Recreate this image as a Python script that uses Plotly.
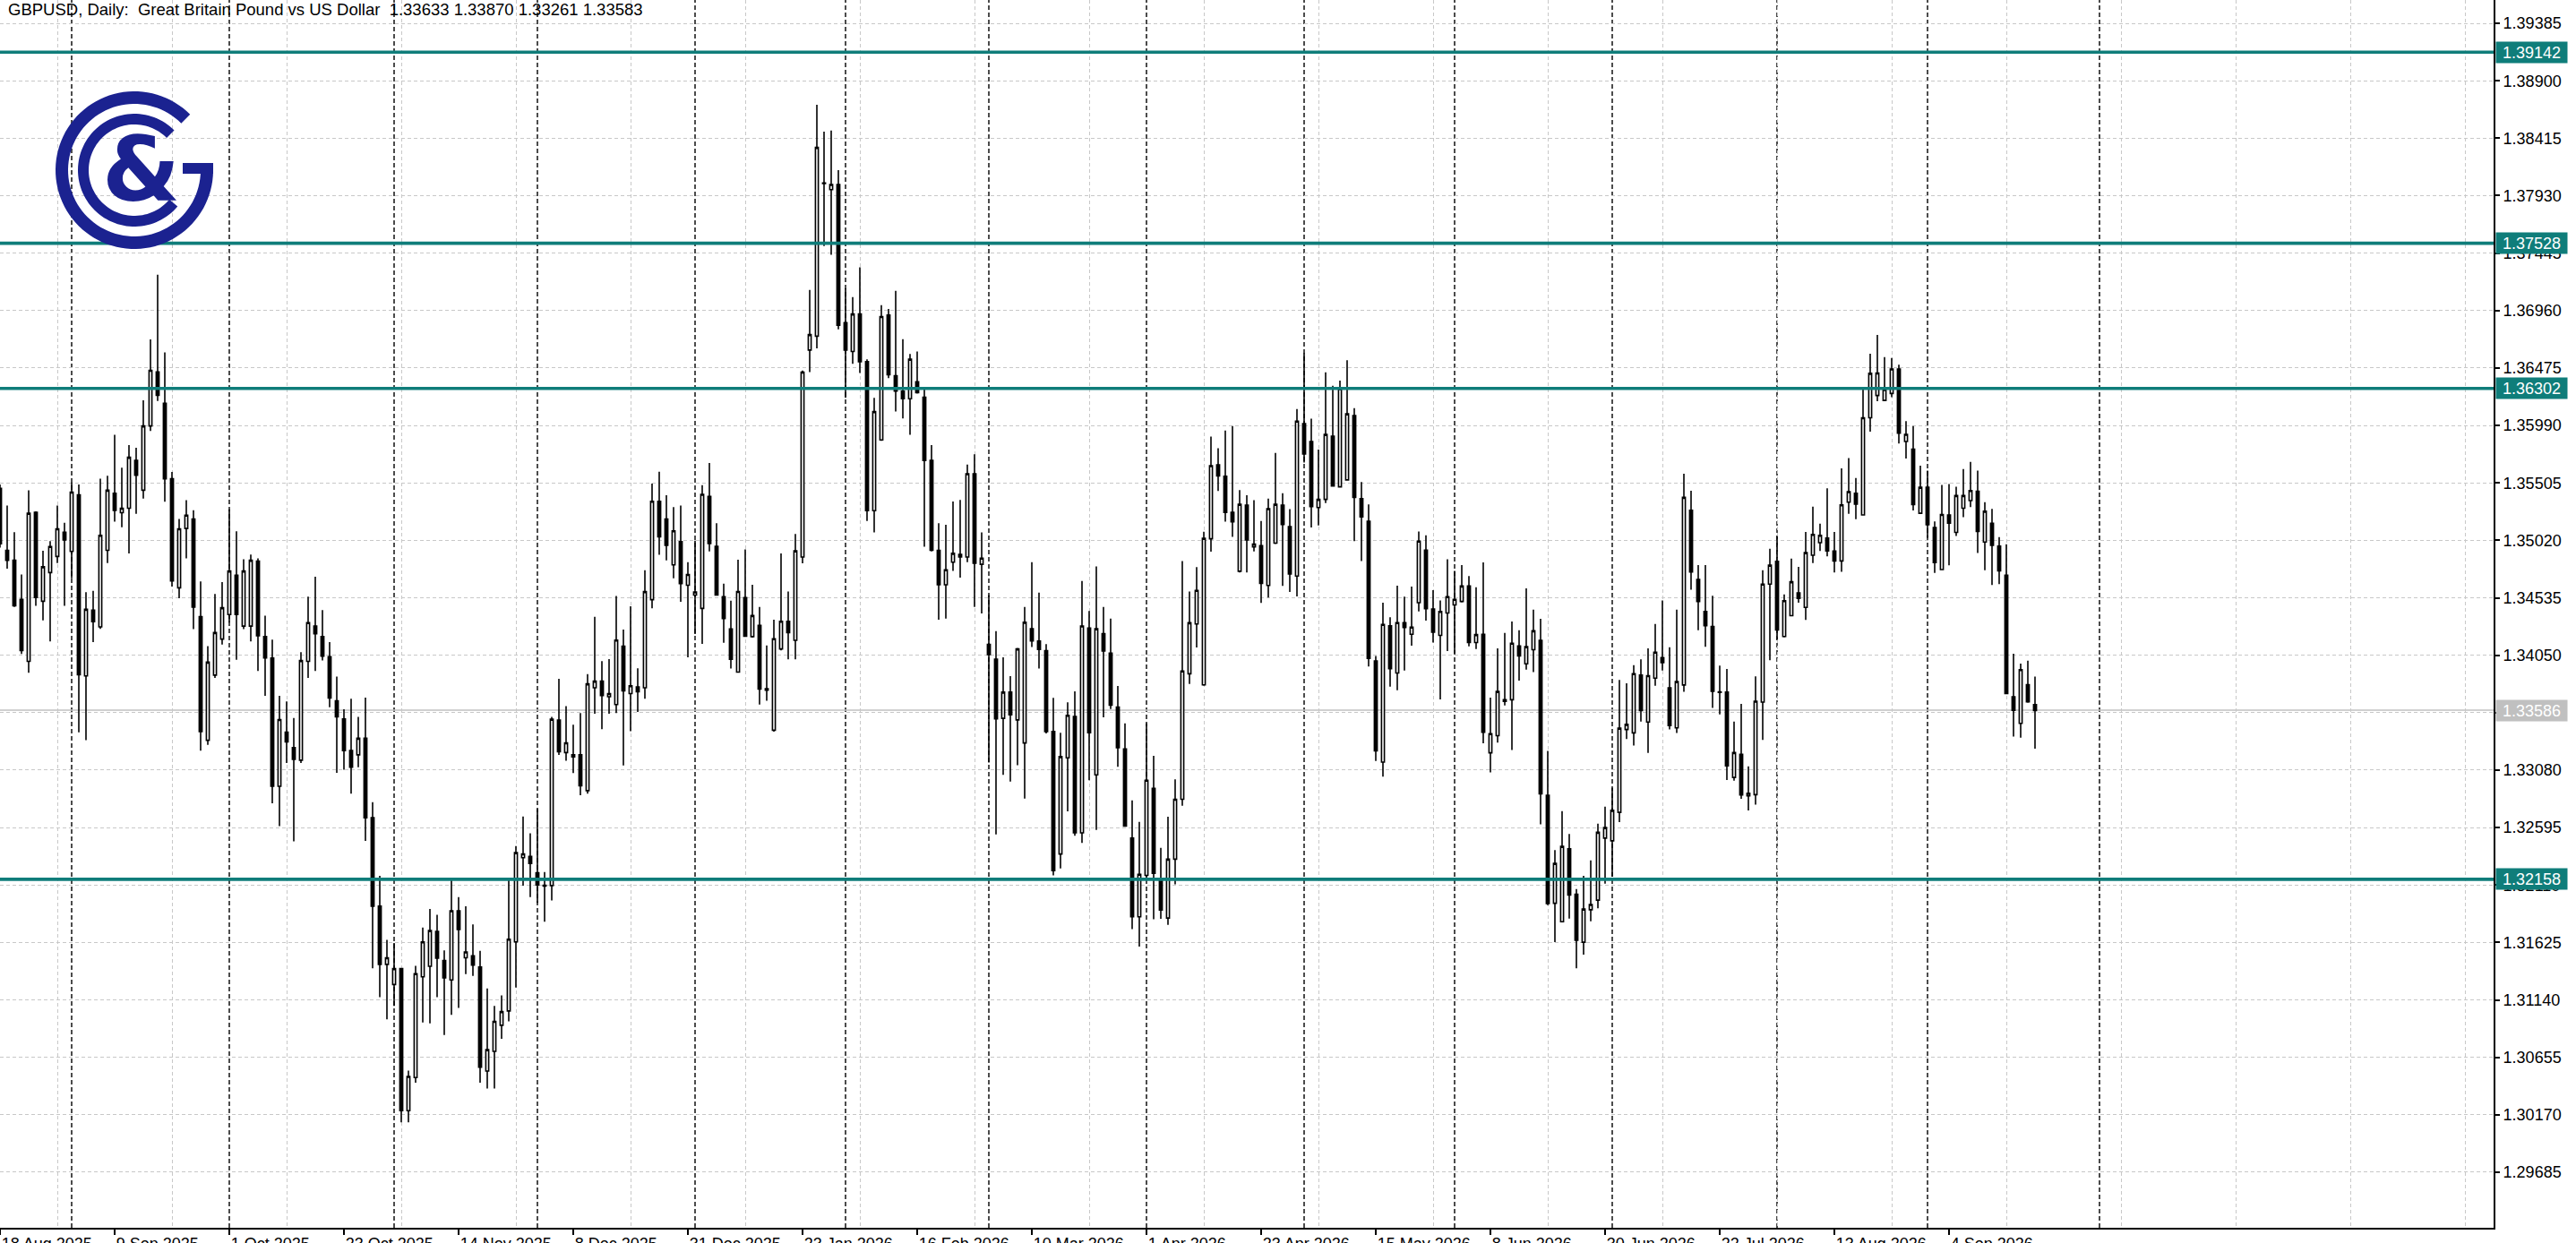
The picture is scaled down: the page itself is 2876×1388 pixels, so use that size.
import math
import plotly.graph_objects as go

title_text = "GBPUSD, Daily:  Great Britain Pound vs US Dollar  1.33633 1.33870 1.33261 1.33583"

opens = [
    1.35459, 1.34936, 1.34852, 1.34522, 1.33998, 1.35256, 1.34506, 1.34748, 1.34884, 1.35088,
    1.34926, 1.35404, 1.33875, 1.34431, 1.34289, 1.34936, 1.35417, 1.35253, 1.35291, 1.35695,
    1.35443, 1.35986, 1.36442, 1.36177, 1.35540, 1.34619, 1.35120, 1.35201, 1.34376, 1.33332,
    1.33882, 1.34186, 1.34393, 1.34726, 1.34296, 1.34296, 1.34845, 1.34208, 1.34027, 1.32944,
    1.33400, 1.33271, 1.33164, 1.33998, 1.34296, 1.34208, 1.34037, 1.33665, 1.33513, 1.33245,
    1.33209, 1.33349, 1.32678, 1.31931, 1.31440, 1.31270, 1.31404, 1.30205, 1.30484, 1.31335,
    1.31424, 1.31718, 1.31473, 1.31309, 1.31892, 1.31496, 1.31512, 1.31417, 1.30539, 1.30706,
    1.30926, 1.31047, 1.31630, 1.32341, 1.32351, 1.32213, 1.32108, 1.32105, 1.33503, 1.33228,
    1.33192, 1.33209, 1.32907, 1.33775, 1.33831, 1.33700, 1.33634, 1.34126, 1.33726, 1.33782,
    1.33775, 1.34519, 1.35350, 1.35200, 1.34813, 1.35009, 1.34641, 1.34558, 1.34445, 1.35391,
    1.34970, 1.34545, 1.34272, 1.33907, 1.34536, 1.34207, 1.34302, 1.33755, 1.33417, 1.34103,
    1.34337, 1.34176, 1.34879, 1.36627, 1.36744, 1.38033, 1.37981, 1.38024, 1.36857, 1.36614,
    1.36931, 1.36528, 1.35270, 1.35868, 1.36922, 1.36410, 1.36280, 1.36215, 1.36358, 1.36228,
    1.35695, 1.34936, 1.34645, 1.34836, 1.34901, 1.34879, 1.35582, 1.34818, 1.34142, 1.34016,
    1.33517, 1.33738, 1.33504, 1.33309, 1.34273, 1.34170, 1.34088, 1.33406, 1.32372, 1.33184,
    1.33533, 1.32550, 1.34280, 1.33040, 1.34232, 1.34067, 1.33612, 1.33259, 1.32506, 1.31841,
    1.32191, 1.32927, 1.32156, 1.31831, 1.32328, 1.32834, 1.33893, 1.34314, 1.33800, 1.35033,
    1.35657, 1.35561, 1.35256, 1.34759, 1.35318, 1.34965, 1.34975, 1.34639, 1.34996, 1.35318,
    1.35136, 1.34718, 1.36006, 1.35855, 1.35297, 1.35366, 1.35900, 1.35472, 1.35530, 1.36074,
    1.35372, 1.35181, 1.34001, 1.33148, 1.34299, 1.33900, 1.34325, 1.34227, 1.34493, 1.34938,
    1.34441, 1.34218, 1.34406, 1.34475, 1.34504, 1.34634, 1.34157, 1.34227, 1.33226, 1.33371,
    1.33660, 1.33674, 1.34128, 1.33978, 1.34096, 1.34175, 1.32867, 1.31956, 1.31800, 1.32416,
    1.32032, 1.31627, 1.31901, 1.31982, 1.32506, 1.32483, 1.32723, 1.33423, 1.33394, 1.33882,
    1.33486, 1.33856, 1.34030, 1.33775, 1.33437, 1.33799, 1.35273, 1.34689, 1.34420, 1.34292,
    1.33741, 1.33738, 1.33018, 1.33214, 1.32862, 1.32873, 1.33654, 1.34650, 1.34843, 1.34208,
    1.34384, 1.34577, 1.34454, 1.34894, 1.35000, 1.35039, 1.34930, 1.34846, 1.35342, 1.35417,
    1.35235, 1.36055, 1.36243, 1.36201, 1.36260, 1.36467, 1.35854, 1.35789, 1.35249, 1.35468,
    1.35129, 1.34773, 1.35235, 1.35087, 1.35291, 1.35356, 1.35434, 1.35006, 1.35165, 1.34972,
    1.34726, 1.33699, 1.33475, 1.33802, 1.33633,
]
highs = [
    1.35492, 1.35314, 1.35088, 1.34732, 1.35443, 1.35265, 1.34932, 1.35013, 1.35314, 1.35168,
    1.35508, 1.35492, 1.34583, 1.34593, 1.35540, 1.35566, 1.35912, 1.35634, 1.35825, 1.35802,
    1.36203, 1.36717, 1.37263, 1.36607, 1.35598, 1.35201, 1.35359, 1.35275, 1.34674, 1.34127,
    1.34567, 1.34667, 1.35282, 1.35097, 1.34861, 1.34900, 1.34868, 1.34383, 1.34182, 1.33707,
    1.33659, 1.33520, 1.34076, 1.34544, 1.34713, 1.34431, 1.34160, 1.33869, 1.33594, 1.33683,
    1.33530, 1.33693, 1.32809, 1.32187, 1.31646, 1.31620, 1.31411, 1.30543, 1.31427, 1.31751,
    1.31908, 1.31859, 1.31558, 1.32154, 1.32007, 1.31931, 1.31777, 1.31555, 1.31237, 1.31090,
    1.31178, 1.32154, 1.32439, 1.32688, 1.32547, 1.32753, 1.32220, 1.33530, 1.33850, 1.33621,
    1.33464, 1.33562, 1.33890, 1.34374, 1.34001, 1.34018, 1.34551, 1.34266, 1.34463, 1.33939,
    1.34767, 1.35500, 1.35600, 1.35400, 1.35300, 1.35313, 1.34836, 1.35018, 1.35486, 1.35673,
    1.35165, 1.34654, 1.34510, 1.34857, 1.34944, 1.34645, 1.34458, 1.34133, 1.34350, 1.34910,
    1.34588, 1.35074, 1.36454, 1.37135, 1.38697, 1.38471, 1.38480, 1.38146, 1.37148, 1.37074,
    1.37326, 1.36549, 1.36224, 1.37005, 1.36974, 1.37126, 1.36718, 1.36593, 1.36614, 1.36315,
    1.35825, 1.35165, 1.35152, 1.35348, 1.35361, 1.35660, 1.35747, 1.35087, 1.34558, 1.34254,
    1.34033, 1.33873, 1.34111, 1.34458, 1.34835, 1.34578, 1.34143, 1.33691, 1.33396, 1.33653,
    1.33745, 1.34677, 1.34424, 1.34800, 1.34458, 1.34359, 1.33790, 1.33475, 1.32824, 1.32643,
    1.33475, 1.33201, 1.32423, 1.32687, 1.33002, 1.34845, 1.34588, 1.34794, 1.35092, 1.35896,
    1.35797, 1.35948, 1.35985, 1.35444, 1.35400, 1.35359, 1.35184, 1.35372, 1.35759, 1.35417,
    1.35283, 1.36129, 1.36602, 1.36047, 1.35787, 1.36438, 1.36325, 1.36369, 1.36540, 1.36136,
    1.35513, 1.35324, 1.34044, 1.34493, 1.34371, 1.34637, 1.34545, 1.34629, 1.35094, 1.35062,
    1.34600, 1.34513, 1.34860, 1.34762, 1.34811, 1.34718, 1.34623, 1.34834, 1.33692, 1.34108,
    1.34238, 1.34334, 1.34261, 1.34614, 1.34435, 1.34357, 1.33243, 1.32405, 1.32734, 1.32541,
    1.32075, 1.32188, 1.32318, 1.32627, 1.32772, 1.32931, 1.33842, 1.33813, 1.33966, 1.34015,
    1.34108, 1.34313, 1.34513, 1.34117, 1.34435, 1.35583, 1.35438, 1.34811, 1.34811, 1.34552,
    1.33962, 1.33934, 1.33489, 1.33640, 1.33111, 1.33872, 1.34768, 1.34950, 1.35056, 1.34564,
    1.34866, 1.34796, 1.35090, 1.35305, 1.35160, 1.35459, 1.35090, 1.35627, 1.35714, 1.35546,
    1.36293, 1.36596, 1.36755, 1.36568, 1.36559, 1.36503, 1.36027, 1.35985, 1.35650, 1.35608,
    1.35179, 1.35487, 1.35496, 1.35473, 1.35622, 1.35683, 1.35608, 1.35342, 1.35286, 1.35048,
    1.34986, 1.34063, 1.33979, 1.34004, 1.33870,
]
lows = [
    1.34958, 1.34780, 1.34457, 1.34060, 1.33901, 1.34467, 1.34344, 1.34166, 1.34829, 1.34467,
    1.34700, 1.33400, 1.33332, 1.34160, 1.34273, 1.34829, 1.35178, 1.35130, 1.34910, 1.35243,
    1.35372, 1.35944, 1.36197, 1.35346, 1.34629, 1.34532, 1.34868, 1.34270, 1.33245, 1.33293,
    1.33859, 1.34140, 1.34328, 1.34011, 1.34270, 1.34166, 1.33917, 1.33707, 1.32799, 1.32608,
    1.33141, 1.32479, 1.33141, 1.33859, 1.33917, 1.34005, 1.33610, 1.33057, 1.33083, 1.32881,
    1.33104, 1.32482, 1.31407, 1.31162, 1.30975, 1.31090, 1.30107, 1.30107, 1.30441, 1.30949,
    1.30942, 1.31162, 1.30844, 1.31014, 1.31073, 1.31358, 1.31342, 1.30441, 1.30392, 1.30392,
    1.30811, 1.30959, 1.31244, 1.32105, 1.32007, 1.31958, 1.31800, 1.31980, 1.33209, 1.33159,
    1.33055, 1.32868, 1.32881, 1.33556, 1.33425, 1.33556, 1.33562, 1.33120, 1.33408, 1.33572,
    1.33683, 1.34447, 1.34898, 1.34850, 1.34699, 1.34502, 1.34033, 1.34228, 1.34146, 1.34927,
    1.34554, 1.34155, 1.33938, 1.33903, 1.34207, 1.34198, 1.33634, 1.33665, 1.33404, 1.34090,
    1.34016, 1.34016, 1.34827, 1.36441, 1.36640, 1.37504, 1.37430, 1.36801, 1.36224, 1.36510,
    1.36432, 1.35183, 1.35087, 1.35860, 1.36389, 1.36107, 1.36050, 1.35912, 1.36259, 1.34966,
    1.34927, 1.34350, 1.34359, 1.34762, 1.34706, 1.34836, 1.34458, 1.34402, 1.33144, 1.32537,
    1.33040, 1.32983, 1.33122, 1.32840, 1.34119, 1.33937, 1.33389, 1.32191, 1.32249, 1.32732,
    1.32526, 1.32465, 1.32995, 1.32574, 1.33526, 1.33595, 1.33108, 1.32602, 1.31738, 1.31591,
    1.32163, 1.31821, 1.31824, 1.31773, 1.32115, 1.32780, 1.33807, 1.34115, 1.33793, 1.34924,
    1.35437, 1.35177, 1.35050, 1.34749, 1.34749, 1.34927, 1.34492, 1.34537, 1.34989, 1.34636,
    1.34585, 1.34547, 1.35677, 1.35129, 1.35146, 1.35335, 1.35472, 1.35465, 1.35523, 1.35013,
    1.34845, 1.33954, 1.33157, 1.33024, 1.33784, 1.33755, 1.33920, 1.34131, 1.34420, 1.34342,
    1.34157, 1.33677, 1.34085, 1.34065, 1.34495, 1.34125, 1.34102, 1.33307, 1.33061, 1.33313,
    1.33625, 1.33249, 1.33836, 1.33929, 1.33908, 1.32622, 1.31939, 1.31627, 1.31797, 1.31826,
    1.31407, 1.31523, 1.31803, 1.31913, 1.32121, 1.32179, 1.32642, 1.33342, 1.33287, 1.33489,
    1.33226, 1.33793, 1.33920, 1.33423, 1.33394, 1.33741, 1.34603, 1.34261, 1.34122, 1.33606,
    1.33550, 1.32996, 1.32990, 1.32837, 1.32739, 1.32789, 1.33335, 1.34007, 1.34180, 1.34200,
    1.34381, 1.34494, 1.34348, 1.34829, 1.34930, 1.34885, 1.34748, 1.34754, 1.35244, 1.35199,
    1.35230, 1.35938, 1.36195, 1.36195, 1.36229, 1.35837, 1.35711, 1.35272, 1.35244, 1.35042,
    1.34745, 1.34768, 1.34810, 1.35056, 1.35216, 1.35300, 1.34913, 1.34768, 1.34642, 1.34650,
    1.33727, 1.33363, 1.33354, 1.33649, 1.33261,
]
closes = [
    1.34991, 1.34852, 1.34467, 1.34089, 1.35249, 1.34538, 1.34797, 1.34968, 1.35117, 1.35023,
    1.35427, 1.33885, 1.34438, 1.34334, 1.35062, 1.35443, 1.35272, 1.35291, 1.35721, 1.35569,
    1.35986, 1.36455, 1.36245, 1.35540, 1.34677, 1.35117, 1.35233, 1.34457, 1.33406, 1.33992,
    1.34241, 1.34451, 1.34761, 1.34393, 1.34761, 1.34852, 1.34215, 1.34027, 1.32944, 1.33507,
    1.33319, 1.33170, 1.34005, 1.34325, 1.34231, 1.34043, 1.33688, 1.33529, 1.33245, 1.33104,
    1.33349, 1.32678, 1.31931, 1.31440, 1.31496, 1.31404, 1.30205, 1.30494, 1.31361, 1.31630,
    1.31725, 1.31492, 1.31325, 1.31892, 1.31735, 1.31545, 1.31434, 1.30572, 1.30720, 1.30959,
    1.31041, 1.31653, 1.32383, 1.32373, 1.32292, 1.32111, 1.32101, 1.33510, 1.33235, 1.33310,
    1.33209, 1.32947, 1.33808, 1.33831, 1.33710, 1.33726, 1.34178, 1.33749, 1.33792, 1.33742,
    1.34587, 1.35350, 1.35050, 1.34977, 1.35100, 1.34654, 1.34732, 1.34584, 1.35408, 1.34992,
    1.34558, 1.34359, 1.34016, 1.34588, 1.34211, 1.34385, 1.33764, 1.33768, 1.34189, 1.34337,
    1.34241, 1.34931, 1.36441, 1.36757, 1.38337, 1.38037, 1.38024, 1.36836, 1.36627, 1.36931,
    1.36528, 1.35270, 1.36107, 1.36909, 1.36419, 1.36280, 1.36215, 1.36549, 1.36267, 1.35695,
    1.34936, 1.34645, 1.34771, 1.34910, 1.34879, 1.35582, 1.34827, 1.34870, 1.34055, 1.33513,
    1.33738, 1.33547, 1.34103, 1.34328, 1.34170, 1.34098, 1.33406, 1.32232, 1.33194, 1.33543,
    1.32550, 1.34297, 1.33396, 1.34273, 1.34085, 1.33629, 1.33269, 1.32608, 1.31841, 1.32201,
    1.32995, 1.32208, 1.31899, 1.32328, 1.32834, 1.33917, 1.34324, 1.34598, 1.35037, 1.35650,
    1.35564, 1.35256, 1.35177, 1.35324, 1.35023, 1.34989, 1.34657, 1.35287, 1.35324, 1.35153,
    1.34735, 1.36027, 1.35749, 1.35304, 1.35366, 1.35914, 1.35479, 1.36301, 1.36088, 1.35383,
    1.35218, 1.34023, 1.33243, 1.34310, 1.33937, 1.34325, 1.34284, 1.34287, 1.35013, 1.34443,
    1.34244, 1.34420, 1.34545, 1.34522, 1.34634, 1.34157, 1.34224, 1.33399, 1.33388, 1.33744,
    1.33674, 1.34151, 1.34044, 1.34122, 1.34256, 1.32879, 1.31953, 1.32292, 1.32436, 1.32026,
    1.31644, 1.31907, 1.31945, 1.32555, 1.32595, 1.32740, 1.33434, 1.33466, 1.33894, 1.33582,
    1.33877, 1.34076, 1.33987, 1.33457, 1.33827, 1.35383, 1.34753, 1.34504, 1.34299, 1.33746,
    1.33735, 1.33116, 1.33228, 1.32870, 1.32884, 1.33662, 1.34650, 1.34810, 1.34264, 1.34510,
    1.34670, 1.34530, 1.34916, 1.35070, 1.35062, 1.34930, 1.34846, 1.35319, 1.35431, 1.35325,
    1.36055, 1.36430, 1.36433, 1.36293, 1.36467, 1.35924, 1.35915, 1.35322, 1.35468, 1.35151,
    1.34832, 1.35238, 1.35165, 1.35398, 1.35398, 1.35440, 1.35095, 1.35266, 1.34978, 1.34762,
    1.33727, 1.33584, 1.33928, 1.33657, 1.33583,
]

x_tick_labels = ["18 Aug 2025", "9 Sep 2025", "1 Oct 2025", "23 Oct 2025", "14 Nov 2025",
                 "8 Dec 2025", "31 Dec 2025", "23 Jan 2026", "16 Feb 2026", "10 Mar 2026",
                 "1 Apr 2026", "23 Apr 2026", "15 May 2026", "8 Jun 2026", "30 Jun 2026",
                 "22 Jul 2026", "13 Aug 2026", "4 Sep 2026"]
bars_per_label = 16
y_tick_values = [1.39385, 1.38900, 1.38415, 1.37930, 1.37445, 1.36960, 1.36475, 1.35990,
                 1.35505, 1.35020, 1.34535, 1.34050, 1.33565, 1.33080, 1.32595, 1.32110,
                 1.31625, 1.31140, 1.30655, 1.30170, 1.29685]
level_prices = [1.39142, 1.37528, 1.36302, 1.32158]
bid_price = 1.33586
month_start_bars = [10, 32, 55, 75, 97, 118, 138, 160, 182, 203, 225, 248, 269, 293]

# ---------------- layout constants ----------------
W, H = 2876, 1388
ML, MR, MT, MB = 0, 92, 0, 17
PW, PH = W - ML - MR, H - MT - MB
X_RANGE = [0, 348]
Y_RANGE = [1.29216, 1.39582]
TEAL = "#0f7d7a"
LOGO = "#1b2290"
FONT = "Liberation Sans, Arial, sans-serif"
FS = 18

n = len(opens)
xs = list(range(n))

fig = go.Figure()
fig.add_trace(go.Candlestick(
    x=xs, open=opens, high=highs, low=lows, close=closes,
    increasing=dict(line=dict(color="black", width=1.6), fillcolor="white"),
    decreasing=dict(line=dict(color="black", width=1.6), fillcolor="black"),
    whiskerwidth=0, showlegend=False, hoverinfo="skip",
))

shapes = []
for b in month_start_bars:
    shapes.append(dict(type="line", xref="x", yref="paper", x0=b, x1=b, y0=0, y1=1,
                       line=dict(color="black", width=1.4, dash="5px,3px"), layer="below"))
shapes.append(dict(type="line", xref="paper", yref="y", x0=0, x1=1, y0=bid_price, y1=bid_price,
                   line=dict(color="#c0c0c0", width=1.6), layer="below"))
for p in level_prices:
    shapes.append(dict(type="line", xref="paper", yref="y", x0=0, x1=1, y0=p, y1=p,
                       line=dict(color=TEAL, width=3.6), layer="above"))


def to_paper(px, py):
    return px / PW, 1 - py / PH


def band_path(cx, cy, r_out, r_in, a0, a1, steps=90):
    pts = []
    for k in range(steps + 1):
        a = math.radians(a0 + (a1 - a0) * k / steps)
        pts.append(to_paper(cx + r_out * math.cos(a), cy - r_out * math.sin(a)))
    for k in range(steps, -1, -1):
        a = math.radians(a0 + (a1 - a0) * k / steps)
        pts.append(to_paper(cx + r_in * math.cos(a), cy - r_in * math.sin(a)))
    return "M " + " L ".join(f"{x:.6f},{y:.6f}" for x, y in pts) + " Z"


LCX, LCY = 150, 190
shapes.append(dict(type="path", xref="paper", yref="paper", path=band_path(LCX, LCY, 88, 74, 45, 363),
                   fillcolor=LOGO, line=dict(width=0), layer="above"))
shapes.append(dict(type="path", xref="paper", yref="paper", path=band_path(LCX, LCY, 63, 51, 45, 320),
                   fillcolor=LOGO, line=dict(width=0), layer="above"))
bx0, by0 = to_paper(204, 182)
bx1, by1 = to_paper(238, 194)
shapes.append(dict(type="rect", xref="paper", yref="paper", x0=bx0, x1=bx1, y0=by1, y1=by0,
                   fillcolor=LOGO, line=dict(width=0), layer="above"))

annotations = []
ax, ay = to_paper(157, 190)
annotations.append(dict(xref="paper", yref="paper", x=ax, y=ay, text="<b>&</b>", showarrow=False,
                        font=dict(family="DejaVu Sans", size=100, color=LOGO),
                        xanchor="center", yanchor="middle"))
annotations.append(dict(xref="paper", yref="paper", x=0, y=1, xshift=7, yshift=2, text=title_text,
                        showarrow=False, xanchor="left", yanchor="top",
                        font=dict(family=FONT, size=18.5, color="black")))
for p in level_prices:
    annotations.append(dict(xref="paper", yref="y", x=1, y=p, xshift=2, text=f"{p:.5f}",
                            showarrow=False, xanchor="left", yanchor="middle",
                            bgcolor=TEAL, borderpad=2, width=75, height=19, align="center",
                            font=dict(family=FONT, size=FS, color="white")))
annotations.append(dict(xref="paper", yref="y", x=1, y=bid_price, xshift=2, text=f"{bid_price:.5f}",
                        showarrow=False, xanchor="left", yanchor="middle",
                        bgcolor="#c0c0c0", borderpad=2, width=75, height=19, align="center",
                        font=dict(family=FONT, size=FS, color="white")))

x_tick_vals = [i * bars_per_label for i in range(len(x_tick_labels))]
grid_vals = list(range(bars_per_label // 2, int(X_RANGE[1]), bars_per_label))

fig.update_layout(
    width=W, height=H,
    margin=dict(l=ML, r=MR, t=MT, b=MB, pad=0, autoexpand=False),
    paper_bgcolor="white", plot_bgcolor="white",
    boxgap=0.6, boxgroupgap=0,
    shapes=shapes, annotations=annotations,
    showlegend=False,
    xaxis=dict(
        range=X_RANGE, rangeslider=dict(visible=False), automargin=False,
        tickmode="array", tickvals=x_tick_vals, ticktext=x_tick_labels, tickangle=0,
        ticks="outside", ticklen=6, tickwidth=1.5, tickcolor="black",
        ticklabelposition="outside right",
        tickfont=dict(family=FONT, size=FS, color="black"),
        showgrid=False, zeroline=False,
        showline=True, linecolor="black", linewidth=2,
        minor=dict(tickmode="array", tickvals=grid_vals, showgrid=True,
                   gridcolor="#c8c8c8", griddash="4px,3px", gridwidth=1.2, ticks=""),
    ),
    yaxis=dict(
        range=Y_RANGE, side="right", automargin=False,
        tickmode="array", tickvals=y_tick_values, ticktext=[f"{v:.5f}" for v in y_tick_values],
        ticks="outside", ticklen=5, tickwidth=1.5, tickcolor="black",
        tickfont=dict(family=FONT, size=FS, color="black"),
        showgrid=True, gridcolor="#c8c8c8", griddash="4px,3px", gridwidth=1.2,
        zeroline=False, showline=True, linecolor="black", linewidth=2, mirror=True,
    ),
)

fig.write_html("out.html", config={"displayModeBar": False},
               post_script="document.body.style.margin='0';document.body.style.overflow='hidden';")
